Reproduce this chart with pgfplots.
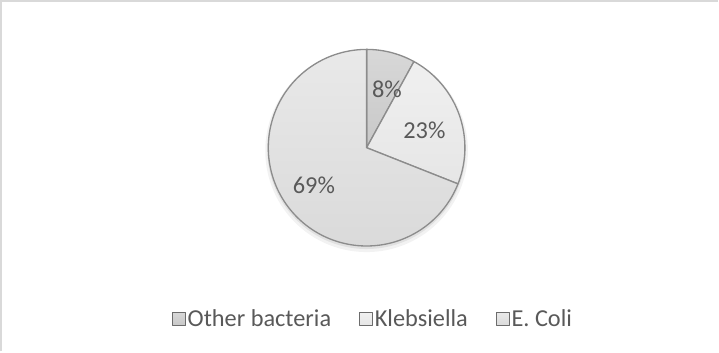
\documentclass[border=0pt]{standalone}
\usepackage{pgfplots}
\usepackage{pgfplotstable}
\pgfplotsset{compat=1.18}
\usepackage{fontspec}
\setmainfont{Carlito}

\definecolor{txtgray}{HTML}{595959}
\definecolor{edgegray}{HTML}{8C8C8C}
\definecolor{frameGray}{HTML}{D9D9D9}
\definecolor{cOtherT}{HTML}{D8D8D8}
\definecolor{cOtherB}{HTML}{C8C8C8}
\definecolor{cKlebT}{HTML}{F0F0F0}
\definecolor{cKlebB}{HTML}{E6E6E6}
\definecolor{cColiT}{HTML}{E9E9E9}
\definecolor{cColiB}{HTML}{DADADA}

% share of isolates, in percent
\pgfplotstableread{
share
8
23
69
}\piedata

\pgfplotstablegetelem{0}{share}\of\piedata \let\sA\pgfplotsretval
\pgfplotstablegetelem{1}{share}\of\piedata \let\sB\pgfplotsretval
\pgfplotstablegetelem{2}{share}\of\piedata \let\sC\pgfplotsretval
% slice boundaries, clockwise from 12 o'clock
\pgfmathsetmacro{\aA}{90}
\pgfmathsetmacro{\aB}{\aA-3.6*\sA}
\pgfmathsetmacro{\aC}{\aB-3.6*\sB}
\pgfmathsetmacro{\aD}{\aC-3.6*\sC}

\def\cx{372}
\def\cy{201}
\def\rr{97}

\begin{document}
\begin{tikzpicture}
\begin{axis}[
  scale only axis, width=719bp, height=352bp,
  xmin=0, xmax=719, ymin=0, ymax=352,
  hide axis, clip=false,
  legend columns=3,
  legend style={at={(axis cs:378,32)}, anchor=center, draw=none, fill=none,
    font=\fontsize{24bp}{28bp}\selectfont, text=txtgray,
    nodes={inner sep=1.5bp},
    /tikz/every even column/.append style={column sep=26bp}},
  legend image code/.code={\draw[#1, draw=gray!85!black, line width=1.1bp] (0bp,-6.5bp) rectangle (13bp,6.5bp);},
  every axis plot/.append style={draw=edgegray, line width=1.3bp, line join=round},
]
% soft drop shadow under the pie
\addplot[draw=none, fill=black, fill opacity=0.05, domain=0:360, samples=120, variable=\t, forget plot]
  ({\cx+(\rr+3)*cos(\t)},{\cy-3+(\rr+3)*sin(\t)});
\addplot[draw=none, fill=black, fill opacity=0.07, domain=0:360, samples=120, variable=\t, forget plot]
  ({\cx+(\rr+1)*cos(\t)},{\cy-2+(\rr+1)*sin(\t)});

\addplot[top color=cOtherT, bottom color=cOtherB, domain=\aB:\aA, samples=30, variable=\t]
  ({\cx+\rr*cos(\t)},{\cy+\rr*sin(\t)}) -- (axis cs:\cx,\cy) -- cycle;
\addlegendentry{Other bacteria}
\addplot[top color=cKlebT, bottom color=cKlebB, domain=\aC:\aB, samples=60, variable=\t]
  ({\cx+\rr*cos(\t)},{\cy+\rr*sin(\t)}) -- (axis cs:\cx,\cy) -- cycle;
\addlegendentry{Klebsiella}
\addplot[top color=cColiT, bottom color=cColiB, domain=\aD:\aC, samples=150, variable=\t]
  ({\cx+\rr*cos(\t)},{\cy+\rr*sin(\t)}) -- (axis cs:\cx,\cy) -- cycle;
\addlegendentry{E. Coli}

\begin{scope}[font=\fontsize{24bp}{28bp}\selectfont, text=txtgray]
\node at (axis cs:392,259) {\sA\%};
\node at (axis cs:429,218) {\sB\%};
\node at (axis cs:320,164) {\sC\%};
\end{scope}

% chart frame (top and left edges)
\draw[frameGray, line width=1.5bp] (axis cs:11,0) -- (axis cs:11,346) -- (axis cs:719,346);
\end{axis}
\end{tikzpicture}
\end{document}
